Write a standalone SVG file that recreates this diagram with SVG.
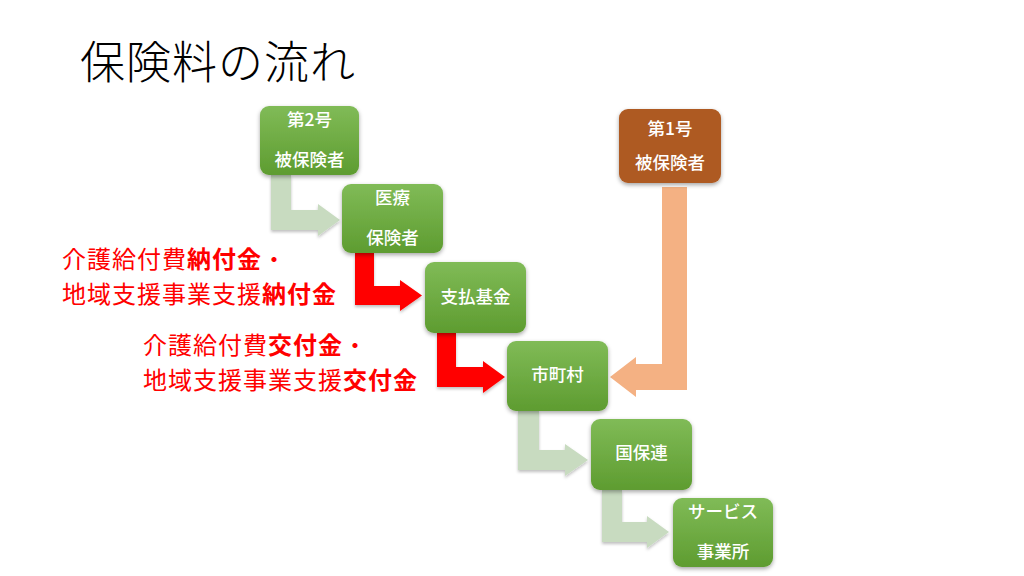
<svg xmlns="http://www.w3.org/2000/svg" width="1024" height="576" viewBox="0 0 1024 576">
<defs>
<linearGradient id="gG" x1="0" y1="0" x2="0" y2="1">
<stop offset="0" stop-color="#80bb57"/>
<stop offset="1" stop-color="#5e9c30"/>
</linearGradient>
<filter id="sh" x="-20%" y="-20%" width="140%" height="150%">
<feDropShadow dx="0" dy="2" stdDeviation="2" flood-color="#000" flood-opacity="0.35"/>
</filter>
<filter id="sha" x="-20%" y="-20%" width="140%" height="150%">
<feDropShadow dx="0" dy="2" stdDeviation="1.5" flood-color="#000" flood-opacity="0.25"/>
</filter>
</defs>
<style>
.box{fill:url(#gG);filter:url(#sh)}
.obox{fill:#ae5a21;filter:url(#sh)}
.nt{font-family:"Noto Sans CJK JP","Noto Sans",sans-serif;font-size:17.5px;font-weight:500;fill:#fff;text-anchor:middle}
.red{font-family:"Noto Sans CJK JP",sans-serif;font-size:24px;letter-spacing:1px;fill:#ff0000}
.b{font-weight:bold}
.lg{fill:#c8dbc0;filter:url(#sha)}
.rd{fill:#ff0000;filter:url(#sha)}
.or{fill:#f4b183}
</style>
<rect width="1024" height="576" fill="#fff"/>
<text x="80" y="79" font-family="'Noto Sans CJK JP',sans-serif" font-size="45" font-weight="300" fill="#000" letter-spacing="1">保険料の流れ</text>
<g id="connectors">
<path class="lg" d="M271,175 H291 V210 H318 V204 L340,220 L318,236 V230 H271 Z"/>
<path class="rd" d="M355,253 H374 V286 H400 V280 L422,295.5 L400,311 V305 H355 Z"/>
<path class="rd" d="M437,333 H456 V367 H483 V361 L505,377 L483,393 V387 H437 Z"/>
<path class="lg" d="M518,411 H539 V450 H565 V444 L588,460 L565,476 V470 H518 Z"/>
<path class="lg" d="M602,490 H622 V522 H647 V516 L669,532 L647,548 V542 H602 Z"/>
<path class="or" d="M662,187 H687 V390 H636 V397 L610,377 L636,357 V364 H662 Z"/>
</g>
<g id="n2go">
<rect class="box" x="260" y="106" width="99" height="69" rx="9"/>
<text class="nt" x="309.5" y="126">第2号</text>
<text class="nt" x="309.5" y="166">被保険者</text>
</g>
<g id="iryo">
<rect class="box" x="342" y="184" width="101" height="69" rx="9"/>
<text class="nt" x="392.5" y="204">医療</text>
<text class="nt" x="392.5" y="244">保険者</text>
</g>
<g id="shiharai">
<rect class="box" x="425" y="262" width="101" height="71" rx="9"/>
<text class="nt" x="475.5" y="303">支払基金</text>
</g>
<g id="shichoson">
<rect class="box" x="507" y="341" width="101" height="70" rx="9"/>
<text class="nt" x="557.5" y="381">市町村</text>
</g>
<g id="kokuho">
<rect class="box" x="591" y="419" width="101" height="71" rx="9"/>
<text class="nt" x="641.5" y="459">国保連</text>
</g>
<g id="service">
<rect class="box" x="673" y="498" width="100" height="69" rx="9"/>
<text class="nt" x="723" y="518">サービス</text>
<text class="nt" x="723" y="558">事業所</text>
</g>
<g id="n1go">
<rect class="obox" x="619" y="109" width="102" height="74" rx="9"/>
<text class="nt" x="670" y="135">第1号</text>
<text class="nt" x="670" y="169">被保険者</text>
</g>
<g id="label1">
<text class="red" x="62" y="267.5">介護給付費</text>
<text class="red b" x="187" y="267.5">納付金</text>
<text class="red" x="262" y="267.5">・</text>
<text class="red" x="62" y="302.5">地域支援事業支援</text>
<text class="red b" x="262" y="302.5">納付金</text>
</g>
<g id="label2">
<text class="red" x="143" y="353.5">介護給付費</text>
<text class="red b" x="268" y="353.5">交付金</text>
<text class="red" x="343" y="353.5">・</text>
<text class="red" x="143" y="388.5">地域支援事業支援</text>
<text class="red b" x="343" y="388.5">交付金</text>
</g>
</svg>
